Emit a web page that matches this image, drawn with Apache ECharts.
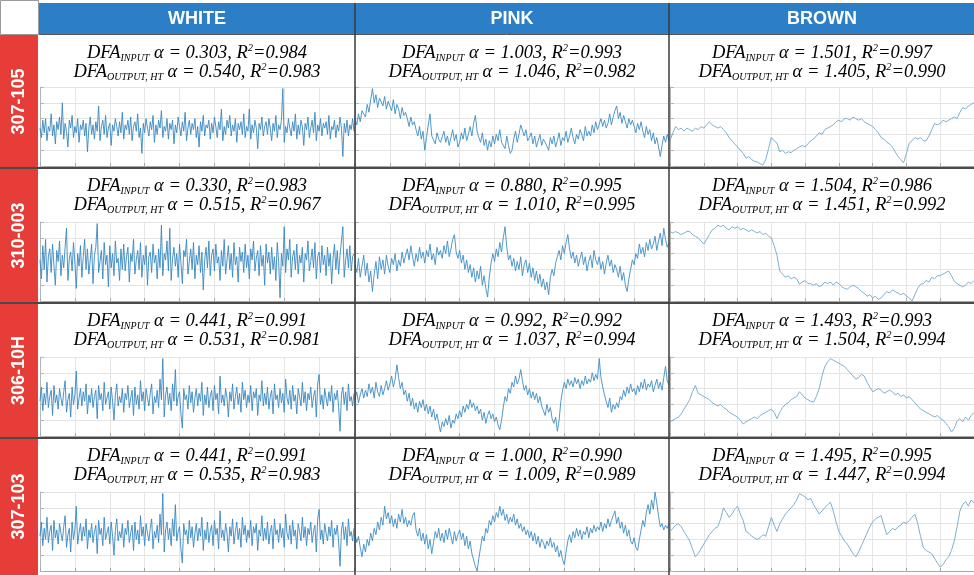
<!DOCTYPE html>
<html><head><meta charset="utf-8">
<script src="https://cdn.jsdelivr.net/npm/echarts@6/dist/echarts.min.js"></script>
<style>html,body{margin:0;padding:0;background:#fff}#c{width:974px;height:575px}</style>
</head><body><div id="c"></div>
<script>
const columns = ['WHITE', 'PINK', 'BROWN'];
const rows = ['307-105', '310-003', '306-10H', '307-103'];
const alphaIn  = [['0.303','1.003','1.501'],['0.330','0.880','1.504'],['0.441','0.992','1.493'],['0.441','1.000','1.495']];
const r2In     = [['0.984','0.993','0.997'],['0.983','0.995','0.986'],['0.991','0.992','0.993'],['0.991','0.990','0.995']];
const alphaOut = [['0.540','1.046','1.405'],['0.515','1.010','1.451'],['0.531','1.037','1.504'],['0.535','1.009','1.447']];
const r2Out    = [['0.983','0.982','0.990'],['0.967','0.995','0.992'],['0.981','0.994','0.994'],['0.983','0.989','0.994']];

const white1 = [2.4,1.8,2.9,2.1,3.0,1.6,2.5,2.2,3.3,1.9,2.6,1.4,2.8,2.3,3.1,2.0,4.0,1.7,2.7,2.2,1.2,2.9,2.4,3.2,1.8,2.5,2.1,3.0,1.5,2.6,
2.3,2.9,1.9,2.7,0.9,2.4,3.1,2.0,2.6,1.7,2.8,2.2,3.8,1.6,2.5,2.9,2.0,3.2,1.8,2.4,2.7,1.3,2.6,2.2,3.0,2.5,1.9,2.8,2.1,3.4,
1.7,2.6,2.3,2.9,2.0,3.1,1.6,2.5,2.8,2.2,3.3,1.8,2.4,0.8,2.7,2.1,3.0,2.4,1.9,2.8,2.3,3.2,1.5,2.6,2.0,2.9,2.4,3.5,1.8,2.5,
2.2,3.0,1.7,2.7,2.3,2.9,1.4,2.6,2.1,3.1,2.5,1.9,2.8,2.2,3.4,1.6,2.4,2.9,2.0,2.7,2.3,3.0,1.8,2.5,1.2,2.8,2.2,3.2,1.9,2.6,
2.4,2.9,1.7,2.7,2.1,3.1,2.5,1.8,2.8,2.3,3.6,1.6,2.5,2.0,2.9,2.4,3.2,1.9,2.6,2.2,3.0,1.5,2.7,2.3,2.8,2.0,3.3,1.8,2.5,2.2,
3.6,1.7,2.6,2.1,2.9,2.4,1.1,2.7,2.3,3.1,1.9,2.5,2.8,2.0,3.0,2.4,1.6,2.7,2.2,3.2,1.8,2.6,2.3,2.9,4.9,1.5,2.5,2.1,3.0,2.4,
1.9,2.8,2.2,3.3,1.7,2.6,2.0,2.9,2.5,1.3,2.7,2.3,3.1,1.8,2.4,2.9,2.1,3.4,1.6,2.6,2.2,3.0,1.9,2.7,2.4,2.8,2.0,3.2,1.7,2.5,
2.3,2.9,1.8,2.6,2.2,3.1,2.4,0.6,2.7,2.1,2.9,1.9,2.6,2.3,3.0,2.2];
const white2 = [2.6,1.4,3.5,2.0,3.9,1.2,2.8,3.3,1.8,3.6,2.2,1.0,3.2,2.5,3.8,1.6,2.9,2.1,3.4,4.6,1.3,2.7,3.1,1.9,3.7,2.4,0.8,3.0,2.2,3.5,
1.5,2.8,3.9,2.0,3.3,1.7,2.6,3.6,1.1,2.9,3.4,4.9,1.8,2.5,3.2,1.4,3.7,2.3,2.9,0.9,3.5,2.1,3.0,1.6,3.8,2.4,2.7,1.3,3.3,2.0,
3.6,1.9,2.8,3.4,1.2,3.0,2.5,3.9,1.7,2.6,3.2,2.0,3.7,1.5,2.9,2.3,3.5,1.0,2.8,3.1,1.8,3.6,2.4,2.9,1.4,3.3,2.1,4.8,1.6,3.0,
2.6,3.8,1.9,4.6,1.3,2.7,3.4,2.2,3.0,1.5,3.6,2.4,1.1,3.2,2.8,3.9,1.7,2.5,3.3,2.0,3.7,1.4,2.9,2.3,3.5,1.8,3.1,0.7,2.6,3.4,
2.1,3.8,1.6,2.9,3.3,1.9,3.6,2.4,2.8,1.3,3.2,2.2,3.9,1.7,2.6,3.5,2.0,3.0,1.5,3.7,2.3,2.8,1.2,3.4,2.5,3.1,1.8,3.6,2.1,2.9,
1.4,3.3,2.6,3.8,1.9,2.7,3.2,1.6,3.5,2.2,2.9,1.0,3.6,2.4,3.1,1.7,3.4,2.0,2.8,1.3,3.7,2.5,0.2,3.0,2.2,4.7,1.8,3.3,2.6,3.9,
1.5,2.8,3.2,2.0,3.6,1.7,2.9,2.4,3.4,1.2,3.0,2.6,3.8,1.9,2.5,3.3,2.1,3.7,1.4,2.8,3.1,1.8,3.5,2.3,2.9,1.6,3.4,2.2,3.0,1.1,
2.7,3.6,2.0,3.2,1.7,2.9,3.8,4.7,1.5,2.6,3.3,2.1,3.5,1.9,2.8,3.0];
const white3 = [2.2,3.1,1.6,2.7,2.0,3.4,1.8,2.5,2.9,1.3,3.2,2.1,2.6,1.7,3.0,2.4,1.9,2.8,3.5,1.5,2.3,2.7,1.2,3.1,2.0,2.6,4.1,1.7,2.4,3.0,
1.9,2.8,2.2,3.3,1.4,2.6,2.1,3.0,1.8,2.5,2.9,1.1,3.2,2.3,2.7,1.6,3.4,2.0,2.4,2.8,1.7,3.1,2.2,1.0,2.6,3.3,1.9,2.5,2.1,3.0,
1.5,2.7,2.3,3.2,1.8,2.4,2.9,1.3,3.1,2.0,2.6,1.7,3.5,2.2,2.8,1.6,3.0,2.4,1.9,2.7,3.3,1.4,2.5,2.1,2.9,1.8,3.6,2.3,4.9,1.2,
2.6,3.1,2.0,2.7,1.6,3.3,2.2,4.2,1.9,2.5,2.8,1.4,0.5,3.0,2.3,2.6,1.7,3.2,2.1,2.8,1.5,2.4,3.0,1.9,2.7,2.2,3.4,1.3,2.6,2.0,
3.1,1.8,2.5,2.9,1.6,3.2,2.3,2.7,1.4,3.8,2.1,2.6,1.9,3.0,2.4,1.2,2.8,2.2,3.3,1.7,2.5,3.1,2.0,2.7,1.5,3.4,2.3,2.9,1.8,2.6,
2.1,3.2,1.6,2.8,2.4,3.0,1.3,2.6,2.2,3.5,1.9,2.7,2.0,3.1,1.7,2.5,2.9,1.4,3.3,2.3,2.6,1.8,3.0,2.1,2.7,1.5,3.6,2.4,2.0,2.9,
1.7,3.2,2.2,2.6,1.4,3.0,2.5,1.9,3.4,2.1,2.8,1.6,2.7,2.3,3.1,1.8,2.5,2.9,1.2,3.3,3.9,2.0,2.6,1.7,3.0,2.4,1.9,2.8,2.2,3.2,
1.5,2.7,2.3,2.9,1.8,0.3,2.6,3.1,2.0,2.8,1.6,3.3,2.2,2.5,1.9,2.7];
const white4 = [2.2,3.1,1.6,2.7,2.0,3.4,1.8,2.5,2.9,1.3,3.2,2.1,2.6,1.7,3.0,2.4,1.9,2.8,3.5,1.5,2.3,2.7,1.2,3.1,2.0,2.6,4.1,1.7,2.4,3.0,
1.9,2.8,2.2,3.3,1.4,2.6,2.1,3.0,1.8,2.5,2.9,1.1,3.2,2.3,2.7,1.6,3.4,2.0,2.4,2.8,1.7,3.1,2.2,1.0,2.6,3.3,1.9,2.5,2.1,3.0,
1.5,2.7,2.3,3.2,1.8,2.4,2.9,1.3,3.1,2.0,2.6,1.7,3.5,2.2,2.8,1.6,3.0,2.4,1.9,2.7,3.3,1.4,2.5,2.1,2.9,1.8,3.6,2.3,4.9,1.2,
2.6,3.1,2.0,2.7,1.6,3.3,2.2,4.2,1.9,2.5,2.8,1.4,0.5,3.0,2.3,2.6,1.7,3.2,2.1,2.8,1.5,2.4,3.0,1.9,2.7,2.2,3.4,1.3,2.6,2.0,
3.1,1.8,2.5,2.9,1.6,3.2,2.3,2.7,1.4,3.8,2.1,2.6,1.9,3.0,2.4,1.2,2.8,2.2,3.3,1.7,2.5,3.1,2.0,2.7,1.5,3.4,2.3,2.9,1.8,2.6,
2.1,3.2,1.6,2.8,2.4,3.0,1.3,2.6,2.2,3.5,1.9,2.7,2.0,3.1,1.7,2.5,2.9,1.4,3.3,2.3,2.6,1.8,3.0,2.1,2.7,1.5,3.6,2.4,2.0,2.9,
1.7,3.2,2.2,2.6,1.4,3.0,2.5,1.9,3.4,2.1,2.8,1.6,2.7,2.3,3.1,1.8,2.5,2.9,1.2,3.3,3.9,2.0,2.6,1.7,3.0,2.4,1.9,2.8,2.2,3.2,
1.5,2.7,2.3,2.9,1.8,0.3,2.6,3.1,2.0,2.8,1.6,3.3,2.2,2.5,1.9,2.7];

const pink1 = [3.0,2.6,3.3,2.8,3.5,3.6,3.1,3.9,3.4,4.2,4.9,4.0,4.5,3.7,4.3,4.2,3.8,4.4,3.6,4.1,
4.0,3.5,4.2,3.3,3.9,3.6,3.0,3.7,3.2,3.4,3.0,2.5,3.1,2.6,2.8,2.3,1.9,2.5,1.7,2.2,
1.0,1.8,2.6,3.3,1.9,2.0,1.4,2.1,1.7,1.5,1.6,2.2,1.5,1.9,1.3,1.8,2.3,1.6,2.0,1.2,
1.5,2.1,1.7,2.4,1.6,2.0,2.5,1.9,2.7,3.2,2.2,1.8,1.5,2.1,1.3,1.7,1.0,1.6,1.2,1.9,
1.4,2.0,1.6,2.3,1.5,1.6,1.1,1.9,1.3,0.8,1.0,1.7,2.2,1.5,2.0,2.6,2.6,1.9,2.3,1.6,
1.8,2.1,1.4,1.9,1.2,1.6,2.0,1.3,1.7,1.5,1.5,1.0,1.8,1.4,1.9,1.2,1.6,2.1,1.3,1.8,
1.6,2.2,1.5,1.9,2.4,1.8,1.4,2.0,1.7,2.3,2.0,1.6,2.5,1.9,2.2,1.9,2.6,2.1,2.8,2.3,
2.4,3.0,2.5,2.9,2.4,2.7,3.3,2.6,3.1,3.5,3.8,3.0,3.4,2.7,3.2,2.8,2.4,3.0,2.6,2.9,
2.5,2.1,2.7,2.3,2.8,2.2,1.8,2.5,2.0,2.3,1.6,2.1,1.4,1.8,1.2,0.6,1.3,1.9,1.5,2.0,1.6];
const pink2 = [2.3,1.8,2.7,1.5,2.2,2.9,1.6,2.4,1.2,1.9,0.6,1.7,2.5,1.4,2.8,2.0,2.6,1.7,2.9,2.2,
1.8,2.7,2.3,3.0,1.9,2.6,2.2,3.1,2.4,2.9,3.3,2.6,3.5,2.8,2.2,3.0,2.5,3.4,2.7,3.1,
2.4,3.2,2.8,3.6,2.6,3.0,2.3,3.4,2.9,3.2,2.7,3.5,3.0,3.8,2.8,3.3,3.9,4.2,3.1,2.7,
3.2,2.4,2.9,2.0,2.6,1.8,2.3,1.5,2.1,1.2,1.9,1.4,2.2,1.0,1.6,0.8,0.25,1.5,2.4,3.0,
2.5,3.3,2.8,3.7,3.1,4.0,4.7,3.4,2.6,2.9,2.2,2.7,1.9,2.5,2.0,2.8,1.6,2.3,2.6,1.8,
2.4,1.5,2.1,1.3,1.9,1.1,1.7,0.9,1.4,0.7,1.2,0.4,1.5,2.0,1.6,2.4,2.8,3.2,2.6,3.5,
3.0,3.7,4.2,3.3,2.7,3.1,2.4,2.9,2.2,2.7,3.1,2.3,2.8,1.9,2.5,2.9,2.1,3.2,2.6,2.3,
2.8,2.0,2.5,1.7,2.4,2.9,2.2,2.6,1.8,2.3,2.0,1.5,2.2,1.3,1.8,1.0,0.6,1.4,2.0,2.6,
2.3,3.0,2.7,3.6,3.0,3.4,2.8,3.7,3.2,3.9,3.3,3.6,4.1,3.2,3.8,4.3,3.5,4.6,3.9,3.4,3.7];
const pink3 = [2.3,2.8,2.1,2.6,3.0,2.4,2.9,2.5,3.3,2.7,3.1,2.4,3.4,2.8,2.5,3.2,2.6,3.0,3.5,2.9,
3.3,3.8,3.1,3.6,4.5,3.7,3.0,3.4,2.6,2.9,2.2,2.7,1.9,2.4,1.7,2.1,1.5,2.2,1.8,2.3,
1.6,2.0,1.4,1.9,1.2,1.7,1.0,1.4,0.8,0.25,0.9,0.6,1.1,0.7,1.3,0.5,1.0,0.8,1.4,1.1,
1.6,1.2,1.9,1.5,2.0,1.7,2.3,1.8,2.1,1.6,1.9,1.4,1.7,1.0,1.5,0.8,1.3,1.6,1.1,1.4,
0.9,1.2,0.7,0.4,1.0,1.8,2.5,2.2,3.0,2.7,3.4,3.1,3.8,3.3,3.6,4.2,3.5,2.9,3.2,2.6,
3.0,2.4,2.8,2.3,2.7,2.1,2.5,1.9,1.6,1.3,2.0,1.5,1.8,1.1,0.8,1.2,0.3,1.0,2.2,2.9,
3.4,3.0,3.6,3.2,3.5,3.1,3.7,3.3,3.6,3.0,3.5,3.2,3.8,3.3,3.6,3.4,4.0,3.5,3.9,3.6,
4.9,3.7,3.1,2.6,2.2,1.8,2.4,1.5,2.0,1.7,2.1,1.8,2.5,2.3,2.9,2.5,3.1,2.7,3.3,2.8,
3.0,2.6,3.2,2.8,3.4,3.0,3.6,2.9,3.3,3.1,3.5,2.8,3.2,3.6,3.0,3.4,2.9,3.7,4.4,3.5,3.2];
const pink4 = [2.3,1.8,2.2,1.5,0.9,1.7,1.2,2.0,1.6,2.4,1.9,2.7,2.3,3.1,2.6,3.4,2.9,4.1,3.3,3.7,
3.0,3.5,2.8,3.3,2.7,3.6,3.1,3.9,3.0,3.4,2.8,3.2,2.9,3.5,3.7,2.6,2.2,2.7,1.9,2.4,
1.7,2.3,1.4,2.0,1.1,1.8,2.5,2.1,2.7,1.9,2.4,1.8,2.6,2.0,2.7,2.2,1.7,2.5,1.9,2.3,
2.6,2.0,2.4,1.6,2.2,1.4,1.9,1.1,0.7,0.3,0.0,0.8,1.5,2.2,1.9,2.7,2.4,3.2,2.9,3.5,
3.1,3.7,3.4,4.1,3.5,3.9,3.2,3.6,3.0,3.4,3.1,3.6,2.9,3.3,2.7,3.0,2.5,2.8,2.3,2.6,
2.1,2.5,1.9,2.4,1.7,2.2,1.5,2.0,1.8,1.4,1.9,1.6,2.1,1.5,1.8,1.2,1.6,0.9,1.3,0.7,
0.4,1.2,1.9,2.3,1.8,2.5,2.1,2.7,2.2,2.6,2.0,2.5,2.3,2.8,2.1,2.7,2.4,2.9,2.5,2.8,
2.6,3.1,2.5,3.0,2.7,3.3,2.8,3.2,3.5,3.8,3.0,3.4,2.7,3.1,2.4,2.9,2.2,2.6,1.9,1.7,
2.1,1.5,1.3,2.0,2.6,3.2,2.8,3.7,4.2,3.6,4.5,3.9,5.0,4.3,3.5,2.8,3.0,2.6,2.9,2.7,3.0];

const brown1 = [1.6,2.1,2.5,2.3,2.4,2.2,2.4,2.3,2.2,2.4,2.3,2.5,2.4,2.6,2.8,2.6,2.5,2.4,2.5,2.3,
2.1,1.8,1.6,1.4,1.2,1.0,0.8,0.5,0.6,0.4,0.3,0.25,0.15,0.06,0.4,1.1,1.8,1.6,1.45,0.9,
1.0,0.8,0.9,0.85,1.0,1.1,1.2,1.3,1.2,1.4,1.6,1.7,1.9,2.1,2.0,2.3,2.4,2.5,2.6,2.8,
2.9,2.8,3.0,3.0,2.9,3.1,3.0,2.9,3.0,2.8,2.7,2.6,2.5,2.3,2.1,1.8,1.7,1.5,1.4,1.2,
0.9,0.6,0.4,0.2,0.8,1.45,1.6,1.8,1.7,1.8,1.6,1.6,1.9,2.3,2.7,2.6,2.7,2.9,2.8,2.9,
3.0,3.1,3.0,3.4,3.7,3.6,3.8,3.9,4.0];
const brown2 = [4.4,4.3,4.4,4.3,4.2,4.3,4.4,4.4,4.2,4.1,4.0,3.8,3.6,3.9,4.2,4.5,4.6,4.8,4.7,4.8,
4.6,4.5,4.7,4.6,4.7,4.5,4.6,4.5,4.4,4.5,4.4,4.3,4.4,4.2,4.3,4.1,4.0,3.5,2.9,1.9,
1.7,1.5,1.6,1.4,1.5,1.4,1.06,1.2,1.3,1.1,1.1,1.0,1.1,0.9,1.0,1.2,1.1,1.2,1.0,1.2,
1.1,0.9,0.8,0.75,0.9,1.0,0.9,0.8,0.6,0.5,0.3,0.4,0.2,0.3,0.1,0.2,0.4,0.6,0.5,0.7,
0.6,0.5,0.4,0.5,0.3,0.2,0.0,0.4,0.8,1.06,1.1,1.3,1.2,1.5,1.4,1.6,1.6,1.7,1.8,1.9,
1.6,1.25,1.1,1.0,0.9,1.0,1.2,1.1,1.3];
const brown3 = [0.9,1.0,1.1,1.2,1.4,1.7,2.0,2.3,2.8,3.2,2.7,2.6,2.5,2.4,2.3,2.1,2.0,1.9,2.0,1.8,
1.7,1.5,1.4,1.3,1.2,1.0,0.76,0.9,1.0,1.1,1.2,1.1,1.3,1.4,1.5,1.6,1.7,1.5,1.1,1.5,
1.8,2.0,2.1,2.3,2.4,2.5,2.8,2.6,2.4,2.3,2.2,2.15,2.5,3.0,3.8,4.4,4.7,4.9,4.8,4.7,
4.6,4.5,4.4,4.2,4.0,3.8,3.6,3.7,3.9,3.8,3.4,3.1,2.8,2.9,3.0,2.9,2.7,2.8,2.9,2.8,
2.6,2.7,2.5,2.6,2.4,2.5,2.3,2.1,1.9,1.7,1.6,1.5,1.4,1.3,1.2,1.3,1.1,1.0,0.8,0.6,
0.25,0.5,0.95,1.1,0.9,1.2,1.0,1.3,1.5];
const brown4 = [2.5,2.7,2.9,3.0,2.8,2.5,2.2,1.9,1.4,0.9,1.1,1.4,1.7,2.0,2.3,2.5,2.7,2.8,3.3,4.0,
3.7,3.4,3.6,3.9,4.1,3.6,3.2,2.5,2.4,2.2,2.1,2.0,2.1,2.3,2.2,2.8,3.4,2.9,2.5,3.0,
3.3,3.6,3.8,4.0,4.2,4.5,4.9,4.8,4.7,4.5,4.6,4.2,3.9,3.6,3.8,4.0,4.2,4.35,3.8,3.1,
2.5,2.2,1.9,1.7,1.4,1.1,0.9,1.2,1.6,2.0,2.4,2.8,3.1,3.3,3.4,3.5,2.9,2.3,2.5,2.7,
2.6,2.8,2.9,3.1,3.0,3.2,3.4,3.6,3.0,2.2,1.5,1.3,1.2,1.1,0.8,0.5,0.25,0.4,0.7,0.9,
1.3,1.9,2.8,3.8,4.2,4.4,4.1,4.5,4.3];

const seriesGrid = [[white1, pink1, brown1],[white2, pink2, brown2],[white3, pink3, brown3],[white4, pink4, brown4]];

// layout
const colX = [40, 355, 670];
const colW = [314, 314, 315];
const colCenter = [197, 512, 822];
const rowTop = [35, 168, 303, 438];
const rowBottom = [168, 303, 438, 575];
const gridTop = [87, 222, 357, 492];
const gridH = 79;
const lineColors = ['#3887bf', '#3d8dc3', '#7db0cf'];
const lineWidths = [0.9, 0.9, 1];

const serif = '"Liberation Serif", "DejaVu Serif", serif';
const rich = {
  m: {fontFamily: serif, fontStyle: 'italic', fontSize: 18.5, lineHeight: 20, color: '#1a1a1a'},
  s: {fontFamily: serif, fontStyle: 'italic', fontSize: 10, lineHeight: 10, verticalAlign: 'bottom', color: '#1a1a1a'},
  p: {fontFamily: serif, fontStyle: 'italic', fontSize: 10.5, lineHeight: 10, verticalAlign: 'top', color: '#1a1a1a'}
};

const grids = [], xAxes = [], yAxes = [], series = [], graphics = [];

// background blocks
graphics.push({type: 'rect', shape: {x: 0.5, y: 0.5, width: 38, height: 34}, style: {fill: '#fff', stroke: '#9a9a9a', lineWidth: 1}, z: 1});
graphics.push({type: 'rect', shape: {x: 39, y: 3, width: 935, height: 31}, style: {fill: '#2c7fc6'}, z: 1});
graphics.push({type: 'rect', shape: {x: 0, y: 35, width: 38, height: 540}, style: {fill: '#e63d38'}, z: 1});

columns.forEach((c, j) => {
  graphics.push({type: 'text', x: colCenter[j], y: 19, z: 10,
    style: {text: c, fill: '#fff', font: 'bold 18px "Liberation Sans", Arial, sans-serif', align: 'center', verticalAlign: 'middle'}});
});
rows.forEach((r, i) => {
  graphics.push({type: 'text', x: 19, y: (rowTop[i] + rowBottom[i]) / 2, rotation: Math.PI / 2, z: 10,
    style: {text: r, fill: '#fff', font: 'bold 18px "Liberation Sans", Arial, sans-serif', align: 'center', verticalAlign: 'middle'}});
});

let k = 0;
for (let i = 0; i < 4; i++) {
  for (let j = 0; j < 3; j++) {
    const data = seriesGrid[i][j];
    const n = data.length - 1;
    grids.push({left: colX[j], top: gridTop[i], width: colW[j], height: gridH, containLabel: false});
    xAxes.push({type: 'value', gridIndex: k, min: 0, max: n, interval: n / 9,
      axisLabel: {show: false},
      axisLine: {show: true, onZero: false, lineStyle: {color: '#a8a8a8', width: 1}},
      axisTick: {show: true, inside: true, length: 3, lineStyle: {color: '#a8a8a8'}},
      splitLine: {show: true, lineStyle: {color: '#e4e4e4', width: 1}}});
    yAxes.push({type: 'value', gridIndex: k, min: 0, max: 5, interval: 1, position: 'right',
      axisLabel: {show: false},
      axisLine: {show: true, lineStyle: {color: '#b5b5b5', width: 1}},
      axisTick: {show: true, inside: false, length: 4, lineStyle: {color: '#b5b5b5'}},
      splitLine: {show: true, lineStyle: {color: '#e4e4e4', width: 1}}});
    series.push({type: 'line', xAxisIndex: k, yAxisIndex: k, symbol: 'none', showSymbol: false,
      data: data.map((v, t) => [t, v]),
      lineStyle: {color: lineColors[j], width: lineWidths[j]}, animation: false, silent: true, z: 2});

    const l1 = '{m|DFA}{s|INPUT}{m| α = ' + alphaIn[i][j] + ', R}{p|2}{m|=' + r2In[i][j] + '}';
    const l2 = '{m|DFA}{s|OUTPUT, HT}{m| α = ' + alphaOut[i][j] + ', R}{p|2}{m|=' + r2Out[i][j] + '}';
    graphics.push({type: 'text', x: colCenter[j], y: rowTop[i] + 18, z: 10,
      style: {text: l1, rich: rich, align: 'center', verticalAlign: 'middle'}});
    graphics.push({type: 'text', x: colCenter[j], y: rowTop[i] + 37, z: 10,
      style: {text: l2, rich: rich, align: 'center', verticalAlign: 'middle'}});
    k++;
  }
}

// separators
graphics.push({type: 'line', shape: {x1: 39, y1: 34.5, x2: 974, y2: 34.5}, style: {stroke: '#555', lineWidth: 1}, z: 20});
[168, 303, 438].forEach(y => {
  graphics.push({type: 'line', shape: {x1: 0, y1: y, x2: 974, y2: y}, style: {stroke: '#4a4a4a', lineWidth: 2}, z: 20});
});
[355, 669].forEach(x => {
  graphics.push({type: 'line', shape: {x1: x, y1: 3, x2: x, y2: 575}, style: {stroke: '#3a3a3a', lineWidth: 1.5}, z: 20});
});

const chart = echarts.init(document.getElementById('c'), null, {renderer: 'canvas'});
chart.setOption({
  animation: false,
  backgroundColor: '#fff',
  grid: grids, xAxis: xAxes, yAxis: yAxes, series: series,
  graphic: {elements: graphics}
});
</script></body></html>
